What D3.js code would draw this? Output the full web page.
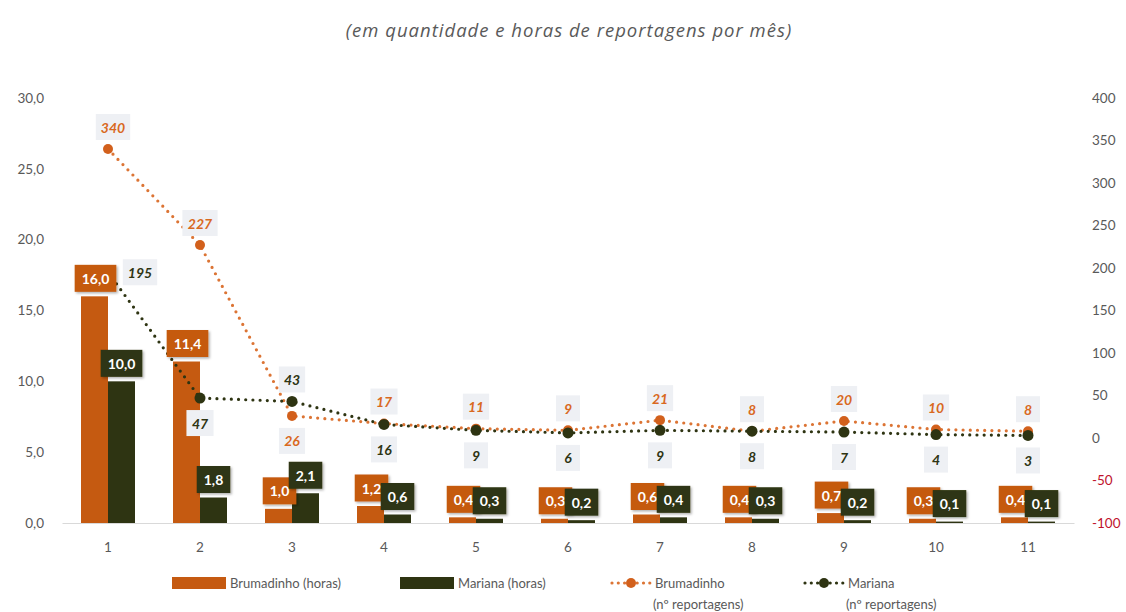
<!DOCTYPE html>
<html>
<head>
<meta charset="utf-8">
<script src="https://cdn.jsdelivr.net/npm/d3@7"></script>
<style>
  html, body { margin: 0; padding: 0; background: #ffffff; }
  svg { display: block; }
</style>
</head>
<body>
<svg id="chart" width="1126" height="612"></svg>
<script>
// Months since the disaster (1..11)
const categories = ["1", "2", "3", "4", "5", "6", "7", "8", "9", "10", "11"];
// Hours of coverage per month
const brumadinhoHoras = [16.0, 11.4, 1.0, 1.2, 0.4, 0.3, 0.6, 0.4, 0.7, 0.3, 0.4];
const marianaHoras    = [10.0, 1.8, 2.1, 0.6, 0.3, 0.2, 0.4, 0.3, 0.2, 0.1, 0.1];
// Number of reports per month
const brumadinhoReportagens = [340, 227, 26, 17, 11, 9, 21, 8, 20, 10, 8];
const marianaReportagens    = [195, 47, 43, 16, 9, 6, 9, 8, 7, 4, 3];
// Axis ticks
const leftTicks  = [0, 5, 10, 15, 20, 25, 30];
const rightTicks = [-100, -50, 0, 50, 100, 150, 200, 250, 300, 350, 400];

const title = "(em quantidade e horas de reportagens por mês)";

const C_ORANGE = "#c55a11";
const C_ORANGE_LINE = "#dc7434";
const C_DARK = "#2e3412";
const C_TEXT = "#595959";
const C_LABEL_BG = "#eef0f4";

const ptBR = d3.formatLocale({decimal: ",", thousands: ".", grouping: [3], currency: ["R$", ""], minus: "-"});
const fmt1 = ptBR.format(".1f");
const fmt0 = ptBR.format("d");

const svg = d3.select("#chart");

const plot = {left: 62, right: 1074, top: 98, bottom: 523};

const x = d3.scaleBand().domain(categories).range([plot.left, plot.right]).padding(0);
const barW = 27;
const series = ["brumadinho", "mariana"];
const xs = d3.scaleBand().domain(series)
  .range([x.bandwidth() / 2 - barW, x.bandwidth() / 2 + barW]).padding(0);
const yL = d3.scaleLinear().domain([0, 30]).range([plot.bottom, plot.top]);
const yR = d3.scaleLinear().domain([-100, 400]).range([plot.bottom, plot.top]);
const cx = c => x(c) + x.bandwidth() / 2;

// Title
svg.append("text")
  .attr("x", 569).attr("y", 37)
  .attr("text-anchor", "middle")
  .attr("font-family", "Open Sans, sans-serif")
  .attr("font-style", "italic")
  .attr("font-size", 18.5)
  .attr("letter-spacing", 1.0)
  .attr("fill", C_TEXT)
  .text(title);

// Left axis
const axisFont = "Lato, 'Open Sans', sans-serif";
const gL = svg.append("g").attr("transform", `translate(${plot.left - 18},0)`)
  .call(d3.axisLeft(yL).tickValues(leftTicks).tickFormat(fmt1).tickSize(0).tickPadding(0));
gL.select(".domain").remove();
gL.selectAll("text").attr("font-family", axisFont).attr("font-size", 13.5).attr("fill", C_TEXT);

// Right axis
const gR = svg.append("g").attr("transform", `translate(${plot.right + 18},0)`)
  .call(d3.axisRight(yR).tickValues(rightTicks).tickFormat(fmt0).tickSize(0).tickPadding(0));
gR.select(".domain").remove();
gR.selectAll("text").attr("font-family", axisFont).attr("font-size", 13.5)
  .attr("fill", d => d < 0 ? "#c0122c" : C_TEXT);

// Category axis
const gX = svg.append("g").attr("transform", `translate(0,${plot.bottom})`)
  .call(d3.axisBottom(x).tickSize(0).tickPadding(19));
gX.select(".domain").attr("stroke", "#d9d9d9").attr("stroke-width", 1.2);
gX.selectAll("text").attr("font-family", axisFont).attr("font-size", 13.5).attr("fill", C_TEXT);

// Bars
const barData = categories.map((c, i) => ({c, brumadinho: brumadinhoHoras[i], mariana: marianaHoras[i]}));
const barSeries = [
  {key: "brumadinho", color: C_ORANGE},
  {key: "mariana", color: C_DARK}
];
barSeries.forEach(s => {
  svg.append("g").selectAll("rect").data(barData).join("rect")
    .attr("x", d => x(d.c) + xs(s.key))
    .attr("width", xs.bandwidth())
    .attr("y", d => yL(d[s.key]))
    .attr("height", d => yL(0) - yL(d[s.key]))
    .attr("fill", s.color);
});

// Dotted lines with markers (right axis)
const lineSeries = [
  {values: brumadinhoReportagens, line: C_ORANGE_LINE, marker: "#d2601c", r: 5},
  {values: marianaReportagens, line: C_DARK, marker: C_DARK, r: 5.5}
];
const lineGen = d3.line().x(d => cx(d.c)).y(d => yR(d.v));
lineSeries.forEach(s => {
  const pts = categories.map((c, i) => ({c, v: s.values[i]}));
  const g = svg.append("g");
  g.append("path").datum(pts)
    .attr("d", lineGen)
    .attr("fill", "none")
    .attr("stroke", s.line)
    .attr("stroke-width", 3.2)
    .attr("stroke-linecap", "round")
    .attr("stroke-dasharray", "0 7.2");
  g.selectAll("circle").data(pts).join("circle")
    .attr("cx", d => cx(d.c)).attr("cy", d => yR(d.v))
    .attr("r", s.r).attr("fill", s.marker);
});

// Shadow filter for bar value boxes
const defs = svg.append("defs");
const f = defs.append("filter").attr("id", "boxShadow").attr("x", "-20%").attr("y", "-20%").attr("width", "150%").attr("height", "150%");
f.append("feDropShadow").attr("dx", 1.5).attr("dy", 1.5).attr("stdDeviation", 1.2)
  .attr("flood-color", "#000").attr("flood-opacity", 0.3);

// Value label inside a filled box
function boxLabel(g, cxp, cyp, text, opts) {
  const t = g.append("text")
    .attr("x", cxp).attr("y", cyp)
    .attr("text-anchor", "middle")
    .attr("dominant-baseline", "central")
    .attr("font-family", opts.font)
    .attr("font-weight", "bold")
    .attr("font-style", opts.italic ? "italic" : "normal")
    .attr("font-size", opts.size)
    .attr("fill", opts.color)
    .text(text);
  const bb = t.node().getBBox();
  const w = Math.max(bb.width + opts.padX * 2, opts.minW || 0);
  const h = opts.h;
  g.insert("rect", () => t.node())
    .attr("x", cxp - w / 2).attr("y", cyp - h / 2)
    .attr("width", w).attr("height", h)
    .attr("fill", opts.bg)
    .attr("filter", opts.shadow ? "url(#boxShadow)" : null);
}

// Bar value labels (boxes filled with bar colour)
const labelFont = "Lato, 'Open Sans', sans-serif";
barSeries.forEach(s => {
  const g = svg.append("g");
  barData.forEach(d => {
    const bx = x(d.c) + xs(s.key) + xs.bandwidth() / 2 + (s.key === "brumadinho" ? 1 : 0);
    const by = yL(d[s.key]) - 18;
    boxLabel(g.append("g"), bx, by, fmt1(d[s.key]), {
      font: labelFont, size: 14, color: "#ffffff", bg: s.color,
      padX: 7, h: 27, shadow: true
    });
  });
});

// Report count labels
const brumPlace = categories.map((c, i) => i === 2 ? "below" : "above");
const marPlace = categories.map((c, i) => i === 0 ? "right" : (i === 2 ? "above" : "below"));
function countLabels(values, place, color) {
  const g = svg.append("g");
  values.forEach((v, i) => {
    const px = cx(categories[i]);
    const py = yR(v);
    let lx = px, ly = py;
    if (place[i] === "above") { ly = py - 22; lx = px + (i === 0 ? 5 : 0); }
    else if (place[i] === "below") { ly = py + 25; }
    else { lx = px + 32; }
    boxLabel(g.append("g"), lx, ly, fmt0(v), {
      font: labelFont, italic: true, size: 14, color, bg: C_LABEL_BG,
      padX: 5, minW: 24, h: 26, shadow: false
    });
  });
}
countLabels(brumadinhoReportagens, brumPlace, "#d9691f");
countLabels(marianaReportagens, marPlace, C_DARK);

// Legend
const legend = svg.append("g")
  .attr("font-family", labelFont).attr("font-size", 13).attr("fill", C_TEXT);
const legY = 583;
const legendItems = [
  {type: "bar", color: C_ORANGE, x: 172, lines: ["Brumadinho (horas)"]},
  {type: "bar", color: C_DARK, x: 400, lines: ["Mariana (horas)"]},
  {type: "line", color: C_ORANGE_LINE, marker: "#d2601c", x: 610, lines: ["Brumadinho", "(nº reportagens)"]},
  {type: "line", color: C_DARK, marker: C_DARK, x: 803, lines: ["Mariana", "(nº reportagens)"]}
];
legendItems.forEach(it => {
  const g = legend.append("g");
  let tx;
  if (it.type === "bar") {
    g.append("rect").attr("x", it.x).attr("y", legY - 6).attr("width", 54).attr("height", 12).attr("fill", it.color);
    tx = it.x + 58;
  } else {
    g.append("line").attr("x1", it.x + 2).attr("x2", it.x + 40).attr("y1", legY).attr("y2", legY)
      .attr("stroke", it.color).attr("stroke-width", 3.2).attr("stroke-linecap", "round")
      .attr("stroke-dasharray", "0 6.3");
    g.append("circle").attr("cx", it.x + 21).attr("cy", legY).attr("r", 5).attr("fill", it.marker);
    tx = it.x + 45;
  }
  it.lines.forEach((ln, k) => {
    g.append("text").attr("x", tx + (k === 1 ? -2 : 0)).attr("y", legY + 5 + k * 21).text(ln);
  });
});
</script>
</body>
</html>
